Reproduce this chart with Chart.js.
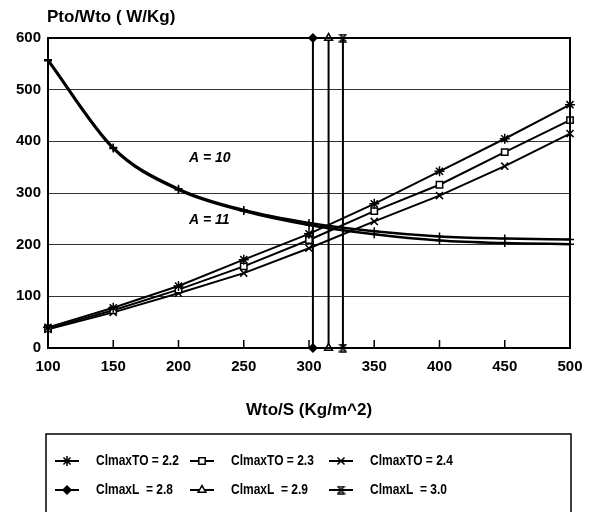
<!DOCTYPE html>
<html><head><meta charset="utf-8">
<script src="https://cdn.jsdelivr.net/npm/chart.js@4/dist/chart.umd.min.js"></script>
<style>html,body{margin:0;padding:0;background:#fff}#wrap{width:595px;height:512px}</style>
</head><body><div id="wrap"><canvas id="c" width="595" height="512"></canvas></div>
<script>
// ---- data ----
const wingLoading = [100,150,200,250,300,350,400,450,500];
const powerA10 = [558,388,308,267,242,226,216,212,210];
const powerA11 = [556,386,306,265,238,220,208,203,201];
const clmaxTO22 = [40,78,120,171,221,279,342,405,471];
const clmaxTO23 = [38,73,113,158,209,265,316,379,441];
const clmaxTO24 = [36,69,106,145,193,245,295,352,415];
const clmaxLx = [303, 315, 326];          // landing limits Wto/S
const clmaxLrange = [0, 600];             // vertical extent
const seriesLabels = ['ClmaxTO = 2.2','ClmaxTO = 2.3','ClmaxTO = 2.4','ClmaxL  = 2.8','ClmaxL  = 2.9','ClmaxL  = 3.0'];
const curveLabels = ['A = 10','A = 11'];
const curveLabelPos = [[208,368],[208,248]];
const xTicks = [100,150,200,250,300,350,400,450,500];
const yTicks = [0,100,200,300,400,500,600];

// hourglass marker
function hourglass(){
  const c=document.createElement('canvas');c.width=9;c.height=9;
  const g=c.getContext('2d');g.strokeStyle='#000';g.lineWidth=1.5;
  g.beginPath();g.moveTo(0.5,1);g.lineTo(8.5,1);g.moveTo(0.5,8);g.lineTo(8.5,8);
  g.moveTo(1.5,1);g.lineTo(7.5,8);g.moveTo(7.5,1);g.lineTo(1.5,8);g.stroke();
  return c;
}
const hg = hourglass();
const styles = [
  {pointStyle:'star',radius:5},
  {pointStyle:'rect',radius:4.5},
  {pointStyle:'crossRot',radius:5},
  {pointStyle:'rectRot',radius:4},
  {pointStyle:'triangle',radius:4.5},
  {pointStyle:hg,radius:5}
];

const pts = arr => wingLoading.map((x,i)=>({x, y:arr[i]}));
const vline = x => clmaxLrange.map(y=>({x,y}));
const base = {borderColor:'#000',backgroundColor:'#fff',borderWidth:2,pointBorderColor:'#000',pointBackgroundColor:'#fff',pointBorderWidth:1.5,tension:0,clip:false};

const datasets = [
  {...base,label:curveLabels[0],data:pts(powerA10),pointStyle:'cross',pointRadius:4,borderWidth:2.5,cubicInterpolationMode:'monotone'},
  {...base,label:curveLabels[1],data:pts(powerA11),pointStyle:'cross',pointRadius:4,borderWidth:2.5,cubicInterpolationMode:'monotone'},
  {...base,label:seriesLabels[0],data:pts(clmaxTO22)},
  {...base,label:seriesLabels[1],data:pts(clmaxTO23)},
  {...base,label:seriesLabels[2],data:pts(clmaxTO24)},
  {...base,label:seriesLabels[3],data:vline(clmaxLx[0]),pointBackgroundColor:'#000'},
  {...base,label:seriesLabels[4],data:vline(clmaxLx[1])},
  {...base,label:seriesLabels[5],data:vline(clmaxLx[2])}
];
for(let i=0;i<6;i++){datasets[i+2].pointStyle=styles[i].pointStyle;datasets[i+2].pointRadius=styles[i].radius;}

const FONT='"Liberation Sans", Arial, sans-serif';
const deco = {
  id:'deco',
  afterDraw(chart){
    const {ctx,chartArea:a,scales:{x,y}}=chart;
    ctx.save();
    // plot frame
    ctx.strokeStyle='#000';ctx.lineWidth=2;ctx.strokeRect(a.left,a.top,a.right-a.left,a.bottom-a.top);
    // inner x tick marks
    ctx.lineWidth=1.5;ctx.beginPath();
    xTicks.slice(1,-1).forEach(v=>{const px=x.getPixelForValue(v);ctx.moveTo(px,a.bottom);ctx.lineTo(px,a.bottom-8);});
    ctx.stroke();
    // y title
    ctx.fillStyle='#000';ctx.font='bold 17px '+FONT;ctx.textBaseline='middle';ctx.textAlign='left';
    ctx.fillText('Pto/Wto ( W/Kg)',a.left-1,17);
    // curve labels
    ctx.font='italic bold 14px '+FONT;
    curveLabels.forEach((t,i)=>ctx.fillText(t,x.getPixelForValue(curveLabelPos[i][0]),y.getPixelForValue(curveLabelPos[i][1])));
    // legend box
    ctx.lineWidth=1.5;ctx.strokeRect(46,434,525,120);
    ctx.font='bold 15px '+FONT;
    const cols=[67,202,341], rows=[461,490];
    for(let i=0;i<6;i++){
      const cx=cols[i%3], cy=rows[Math.floor(i/3)];
      ctx.lineWidth=2;ctx.strokeStyle='#000';ctx.beginPath();ctx.moveTo(cx-12,cy);ctx.lineTo(cx+12,cy);ctx.stroke();
      ctx.fillStyle=(i===3)?'#000':'#fff';ctx.lineWidth=1.5;
      Chart.helpers.drawPoint(ctx,{pointStyle:styles[i].pointStyle,radius:styles[i].radius,rotation:0,borderWidth:1.5},cx,cy);
      ctx.fillStyle='#000';
      ctx.save();ctx.translate(cx+29,cy);ctx.scale(0.8,1);ctx.fillText(seriesLabels[i],0,0);ctx.restore();
    }
    ctx.restore();
  }
};

new Chart(document.getElementById('c'),{
  type:'line',
  data:{datasets},
  options:{
    responsive:false,animation:false,devicePixelRatio:1,
    layout:{padding:{top:38,right:25,bottom:87,left:0}},
    plugins:{legend:{display:false},tooltip:{enabled:false}},
    scales:{
      x:{type:'linear',min:100,max:500,
        afterBuildTicks(s){s.ticks=xTicks.map(v=>({value:v}));},
        afterFit(s){s.height=77;},
        grid:{display:false,drawTicks:false},
        border:{display:true,color:'#000',width:2},
        ticks:{padding:10,color:'#000',font:{family:FONT,size:15,weight:'bold'},maxRotation:0},
        title:{display:true,text:'Wto/S (Kg/m^2)',color:'#000',font:{family:FONT,size:17,weight:'bold'},padding:{top:0,bottom:4}}
      },
      y:{min:0,max:600,
        afterBuildTicks(s){s.ticks=yTicks.map(v=>({value:v}));},
        afterFit(s){s.width=48;},
        grid:{color:'#333',lineWidth:1,drawTicks:false},
        border:{display:true,color:'#000',width:2,dash:[]},
        ticks:{padding:7,color:'#000',font:{family:FONT,size:15,weight:'bold'}}
      }
    }
  },
  plugins:[deco]
});
</script></body></html>
